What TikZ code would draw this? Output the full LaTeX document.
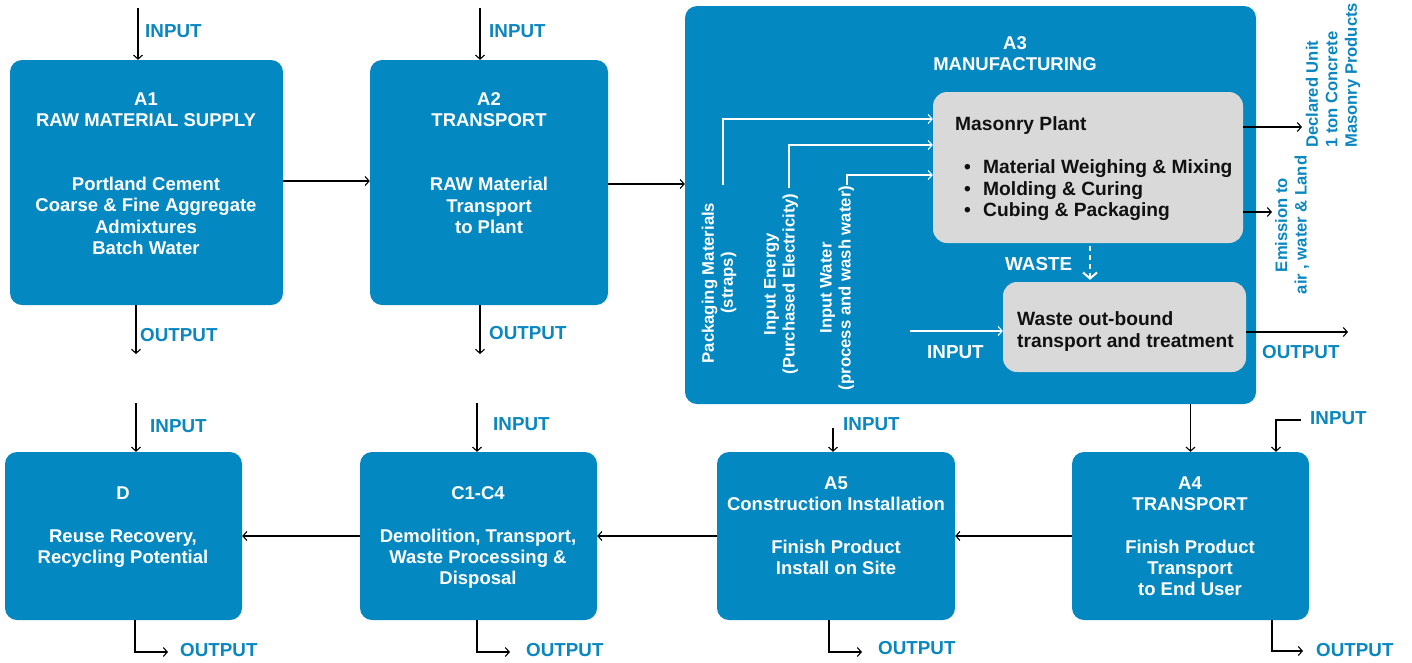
\documentclass[tikz,border=0pt]{standalone}
\usepackage{fontspec}
\setmainfont{Liberation Sans}
\usetikzlibrary{arrows.meta}
\definecolor{boxblue}{HTML}{0388C2}
\definecolor{lblblue}{HTML}{0A87C0}
\definecolor{boxgray}{HTML}{D9D9D9}
\definecolor{darktxt}{HTML}{111111}
\begin{document}
\begin{tikzpicture}[x=1pt,y=-1pt,
  bbox/.style={fill=boxblue, rounded corners=12pt, draw=none, inner sep=0},
  gbox/.style={fill=boxgray, rounded corners=14pt, draw=none, inner sep=0},
  btxt/.style={text=white, font=\bfseries\fontsize{18.5}{21.3}\selectfont, align=center, anchor=north, inner sep=0},
  gtxt/.style={text=darktxt, font=\bfseries\fontsize{19.2}{21.5}\selectfont, align=left, anchor=north west, inner sep=0},
  rtxt/.style={text=white, font=\bfseries\fontsize{16.7}{19}\selectfont, align=center, rotate=90, inner sep=0},
  sidetxt/.style={text=lblblue, font=\bfseries\fontsize{16.6}{19.5}\selectfont, rotate=90, inner sep=0},
  lbl/.style={text=lblblue, font=\bfseries\fontsize{18.8}{21}\selectfont, anchor=west, inner sep=0},
  wlbl/.style={text=white, font=\bfseries\fontsize{18.8}{21}\selectfont, anchor=west, inner sep=0},
  arr/.style={-{Straight Barb[length=4pt,width=9pt]}, line width=1.1pt, black},
  warr/.style={-{Straight Barb[length=4pt,width=9pt]}, line width=1.1pt, white},
  dwarr/.style={-{Straight Barb[length=6pt,width=14pt]}, line width=2pt, white, dash pattern=on 5pt off 4pt}
]
\useasboundingbox (0,0) rectangle (1412,662);

% ---------- boxes ----------
\node[bbox, minimum width=273pt, minimum height=245pt] (A1) at (146.5,182.5) {};
\node[bbox, minimum width=238pt, minimum height=245pt] (A2) at (489,182.5) {};
\node[bbox, minimum width=571pt, minimum height=398pt] (A3) at (970.5,205) {};
\node[gbox, minimum width=310pt, minimum height=151pt] (MP) at (1088,167.5) {};
\node[gbox, minimum width=243pt, minimum height=90pt] (WS) at (1124.5,327) {};
\node[bbox, minimum width=237pt, minimum height=168pt] (D) at (123.5,536) {};
\node[bbox, minimum width=237pt, minimum height=168pt] (C) at (478.5,536) {};
\node[bbox, minimum width=238pt, minimum height=168pt] (A5) at (836,536) {};
\node[bbox, minimum width=237pt, minimum height=168pt] (A4) at (1190.5,536) {};

% ---------- box texts ----------
\node[btxt] (tA1) at (146,92.5) {A1\\RAW MATERIAL SUPPLY\\[42.6pt]Portland Cement\\Coarse \& Fine Aggregate\\Admixtures\\Batch Water};
\node[btxt] (tA2) at (489,92.5) {A2\\TRANSPORT\\[42.6pt]RAW Material\\Transport\\to Plant};
\node[btxt] (tA3) at (1015,36.5) {A3\\MANUFACTURING};
\node[gtxt] (tMP) at (955,116.5) {Masonry Plant\\[21.5pt]%
\makebox[28pt][l]{\hspace*{9pt}\textbullet}Material Weighing \& Mixing\\
\makebox[28pt][l]{\hspace*{9pt}\textbullet}Molding \& Curing\\
\makebox[28pt][l]{\hspace*{9pt}\textbullet}Cubing \& Packaging};
\node[gtxt] (tWS) at (1017,311.5) {Waste out-bound\\transport and treatment};
\node[btxt] (tD) at (123,486.5) {D\\[21.3pt]Reuse Recovery,\\Recycling Potential};
\node[btxt] (tC) at (478,486.5) {C1-C4\\[21.3pt]Demolition, Transport,\\Waste Processing \&\\Disposal};
\node[btxt] (tA5) at (836,476.5) {A5\\Construction Installation\\[21.3pt]Finish Product\\Install on Site};
\node[btxt] (tA4) at (1190,476.5) {A4\\TRANSPORT\\[21.3pt]Finish Product\\Transport\\to End User};

% ---------- rotated texts in A3 ----------
\node[rtxt] (pk) at (719,283) {Packaging Materials\\(straps)};
\node[rtxt] (en) at (781,284) {Input Energy\\(Purchased Electricity)};
\node[rtxt] (wt) at (837,288) {Input Water\\(process and wash water)};

% ---------- side texts ----------
\node[sidetxt, align=left, anchor=west] (du) at (1333,148) {Declared Unit\\1 ton Concrete\\Masonry Products};
\node[sidetxt, align=center] (em) at (1292,225) {Emission to\\air , water \& Land};

% ---------- labels ----------
\node[lbl] (li1) at (145,31) {INPUT};
\node[lbl] (li2) at (489,31) {INPUT};
\node[lbl] (lo1) at (140,335) {OUTPUT};
\node[lbl] (lo2) at (489,333) {OUTPUT};
\node[lbl] (liD) at (150,426) {INPUT};
\node[lbl] (liC) at (493,424) {INPUT};
\node[lbl] (li5) at (843,424) {INPUT};
\node[lbl] (li4) at (1310,418) {INPUT};
\node[lbl] (loD) at (180,650) {OUTPUT};
\node[lbl] (loC) at (526,650) {OUTPUT};
\node[lbl] (lo5) at (878,648) {OUTPUT};
\node[lbl] (lo4) at (1316,650) {OUTPUT};
\node[lbl] (lo3) at (1262,352) {OUTPUT};
\node[wlbl] (lwi) at (927,352) {INPUT};
\node[wlbl] (lwaste) at (1005,264) {WASTE};

% ---------- free-end coordinates ----------
\coordinate (in1) at (138,8);
\coordinate (in2) at (480,8);
\coordinate (out1) at (136,354);
\coordinate (out2) at (480,354);
\coordinate (inD) at (136,403);
\coordinate (inC) at (477,403);
\coordinate (in5) at (833,428);
\coordinate (in4) at (1301,420);
\coordinate (oD) at (168,652);
\coordinate (oC) at (510,652);
\coordinate (o5) at (862,652);
\coordinate (o4) at (1303,651);
\coordinate (oDU) at (1302,127);
\coordinate (oEM) at (1272,212);
\coordinate (oWS) at (1348,332);
\coordinate (sPK) at (723,185);
\coordinate (sEN) at (789,188);
\coordinate (sWT) at (847,185);
\coordinate (sWI) at (910,331);
\coordinate (wsrc) at (1090,246);

% ---------- connectors ----------
\draw[arr] (in1) -- (in1 |- A1.north);
\draw[arr] (in2) -- (in2 |- A2.north);
\draw[arr] (out1 |- A1.south) -- (out1);
\draw[arr] (out2 |- A2.south) -- (out2);
\draw[arr] (A1.east |- 0,181) -- (A2.west |- 0,181);
\draw[arr] (A2.east |- 0,184) -- (A3.west |- 0,184);
\draw[arr] (A4.north |- A3.south) -- (A4.north);
\draw[arr] (in4) -| ([xshift=-25pt]in4 |- A4.north);
\draw[arr] (A4.west) -- (A5.east);
\draw[arr] (A5.west) -- (C.east);
\draw[arr] (C.west) -- (D.east);
\draw[arr] (inD) -- (inD |- D.north);
\draw[arr] (inC) -- (inC |- C.north);
\draw[arr] (in5) -- (in5 |- A5.north);
\draw[arr] (D.south -| 135,0) |- (oD);
\draw[arr] (C.south -| 477,0) |- (oC);
\draw[arr] (A5.south -| 829,0) |- (o5);
\draw[arr] (A4.south -| 1272,0) |- (o4);
\draw[arr] (MP.east |- oDU) -- (oDU);
\draw[arr] (MP.east |- oEM) -- (oEM);
\draw[arr] (WS.east |- oWS) -- (oWS);
\draw[warr] (sPK) |- (MP.west |- 0,119);
\draw[warr] (sEN) |- (MP.west |- 0,145);
\draw[warr] (sWT) |- (MP.west |- 0,175);
\draw[warr] (sWI) -- (WS.west |- sWI);
\draw[dwarr] (wsrc) -- ([yshift=2pt]wsrc |- WS.north);
\end{tikzpicture}
\end{document}
